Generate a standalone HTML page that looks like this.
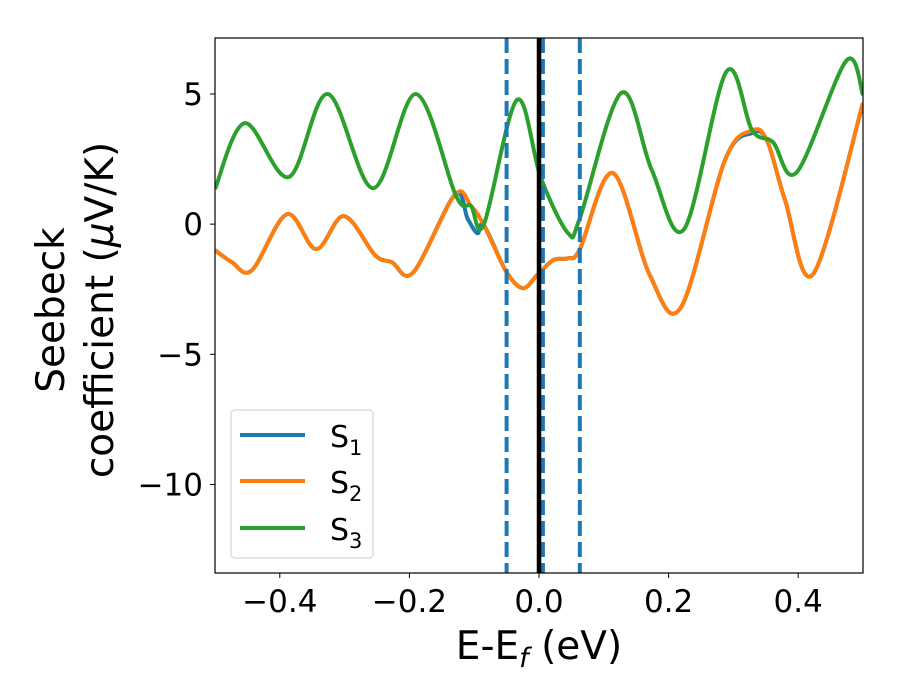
<!DOCTYPE html>
<html><head><meta charset="utf-8"><style>
body{margin:0;background:#fff;}
svg{display:block;font-family:"DejaVu Sans","Liberation Sans",sans-serif;}
</style></head><body>
<svg id="chart" width="900" height="700" viewBox="0 0 900 700" xmlns="http://www.w3.org/2000/svg">
<defs><clipPath id="clip"><rect x="215" y="38" width="648" height="535"/></clipPath></defs>
<g id="plot" clip-path="url(#clip)"></g>
<rect x="215" y="38" width="648" height="535" fill="none" stroke="#000" stroke-width="1.2"/>
<g id="ticks"></g>
<text x="539" y="659" font-size="39" text-anchor="middle">E-E<tspan font-size="27" dy="8" font-style="italic">f</tspan><tspan dy="-8"> (eV)</tspan></text>
<text transform="translate(64,310) rotate(-90)" font-size="39" text-anchor="middle">Seebeck</text>
<text transform="translate(113,310) rotate(-90)" font-size="39" text-anchor="middle">coefficient  (<tspan font-style="italic">μ</tspan>V/K)</text>
<g>
<rect x="231" y="410" width="142" height="148" rx="4" fill="#fff" fill-opacity="0.8" stroke="#ccc" stroke-width="1"/>
<line x1="240" y1="435" x2="305" y2="435" stroke="#1f77b4" stroke-width="4"/>
<text x="330" y="447" font-size="30">S<tspan font-size="21" dy="8">1</tspan></text>
<line x1="240" y1="481" x2="305" y2="481" stroke="#ff7f0e" stroke-width="4"/>
<text x="330" y="493" font-size="30">S<tspan font-size="21" dy="8">2</tspan></text>
<line x1="240" y1="528" x2="305" y2="528" stroke="#2ca02c" stroke-width="4"/>
<text x="330" y="540" font-size="30">S<tspan font-size="21" dy="8">3</tspan></text>
</g>
</svg>
<script>
const xTicks = [-0.4, -0.2, 0.0, 0.2, 0.4];
const xTickLabels = ["\u22120.4", "\u22120.2", "0.0", "0.2", "0.4"];
const yTicks = [5, 0, -5, -10];
const yTickLabels = ["5", "0", "\u22125", "\u221210"];
const s3E = [-0.5,-0.454,-0.386,-0.326,-0.256,-0.19,-0.128,-0.105,-0.085,-0.034,0.003,0.045,0.063,0.127,0.174,0.224,0.289,0.329,0.361,0.398,0.474,0.5];
const s3S = [1.35,3.88,1.81,5.0,1.38,5.0,1.08,0.7,0.0,4.77,1.77,-0.35,0.23,5.04,2.08,-0.19,5.85,3.6,3.15,2.0,6.27,4.96];
const s2E = [-0.5,-0.474,-0.443,-0.389,-0.344,-0.301,-0.253,-0.227,-0.194,-0.13,-0.105,-0.085,-0.051,-0.025,-0.003,0.022,0.045,0.063,0.114,0.171,0.219,0.287,0.329,0.352,0.38,0.423,0.5];
const s2S = [-1.0,-1.46,-1.77,0.38,-0.96,0.31,-1.19,-1.46,-1.85,1.12,0.7,-0.04,-1.8,-2.46,-1.96,-1.38,-1.31,-0.96,1.96,-1.96,-3.2,2.46,3.6,3.2,0.9,-1.92,4.65];
const s1E = [-0.5,-0.474,-0.443,-0.389,-0.344,-0.301,-0.253,-0.227,-0.194,-0.13,-0.11,-0.095,-0.085,-0.051,-0.025,-0.003,0.022,0.045,0.063,0.114,0.171,0.219,0.287,0.329,0.352,0.38,0.423,0.5];
const s1S = [-1.0,-1.46,-1.77,0.38,-0.96,0.31,-1.19,-1.46,-1.85,1.12,0.2,-0.35,-0.04,-1.8,-2.46,-1.96,-1.38,-1.31,-0.96,1.96,-1.96,-3.2,2.46,3.5,3.2,0.9,-1.92,4.65];
const dashedLines = [-0.05, 0.006, 0.063];
const fermiLine = [0.0];

const NS = "http://www.w3.org/2000/svg";
const X0 = 215, X1 = 863, Y0 = 38, Y1 = 573;
const xMin = -0.5, xMax = 0.5, yMin = -13.4, yMax = 7.15;
function xs(v){ return X0 + (v - xMin) / (xMax - xMin) * (X1 - X0); }
function ys(v){ return Y1 - (v - yMin) / (yMax - yMin) * (Y1 - Y0); }
function mk(tag, attrs, parent){ const e = document.createElementNS(NS, tag); for (const k in attrs) e.setAttribute(k, attrs[k]); parent.appendChild(e); return e; }
function smoothPath(ex, sy){
  const p = ex.map((e,i)=>[xs(e), ys(sy[i])]);
  let d = "M" + p[0][0] + "," + p[0][1];
  for (let i = 0; i < p.length - 1; i++){
    const a = p[Math.max(0,i-1)], b = p[i], c = p[i+1], n = p[Math.min(p.length-1,i+2)];
    const c1 = [b[0] + (c[0]-a[0])/6, b[1] + (c[1]-a[1])/6];
    const c2 = [c[0] - (n[0]-b[0])/6, c[1] - (n[1]-b[1])/6];
    d += " C" + c1.join(",") + " " + c2.join(",") + " " + c.join(",");
  }
  return d;
}
const plot = document.getElementById("plot");
const ticks = document.getElementById("ticks");
const series = [[s1E,s1S,"#1f77b4","series-s1"],[s2E,s2S,"#ff7f0e","series-s2"],[s3E,s3S,"#2ca02c","series-s3"]];
series.forEach(s=>{
  const el = mk("path", {d: smoothPath(s[0], s[1]), fill:"none", stroke:s[2], "stroke-width":4, "stroke-linejoin":"round"}, plot);
  
  
});
dashedLines.forEach(v=>{
  const el = mk("line", {x1:xs(v), x2:xs(v), y1:Y0, y2:Y1, stroke:"#1f77b4", "stroke-width":4, "stroke-dasharray":"15,6"}, plot);
  
  
});
fermiLine.forEach(v=>{
  const el = mk("line", {x1:xs(v), x2:xs(v), y1:Y0, y2:Y1, stroke:"#000", "stroke-width":4.5}, plot);
  
  
});
xTicks.forEach((v,i)=>{
  const x = xs(v);
  const t = mk("line", {x1:x, x2:x, y1:Y1, y2:Y1+5, stroke:"#000", "stroke-width":1}, ticks);
  
  
  const l = mk("text", {x:x, y:Y1+39, "font-size":31, "text-anchor":"middle"}, ticks);
  l.textContent = xTickLabels[i];
  
  
});
yTicks.forEach((v,i)=>{
  const y = ys(v);
  const t = mk("line", {x1:X0-5, x2:X0, y1:y, y2:y, stroke:"#000", "stroke-width":1}, ticks);
  
  
  const l = mk("text", {x:X0-12, y:y+11, "font-size":31, "text-anchor":"end"}, ticks);
  l.textContent = yTickLabels[i];
  
  
});
</script>
</body></html>
